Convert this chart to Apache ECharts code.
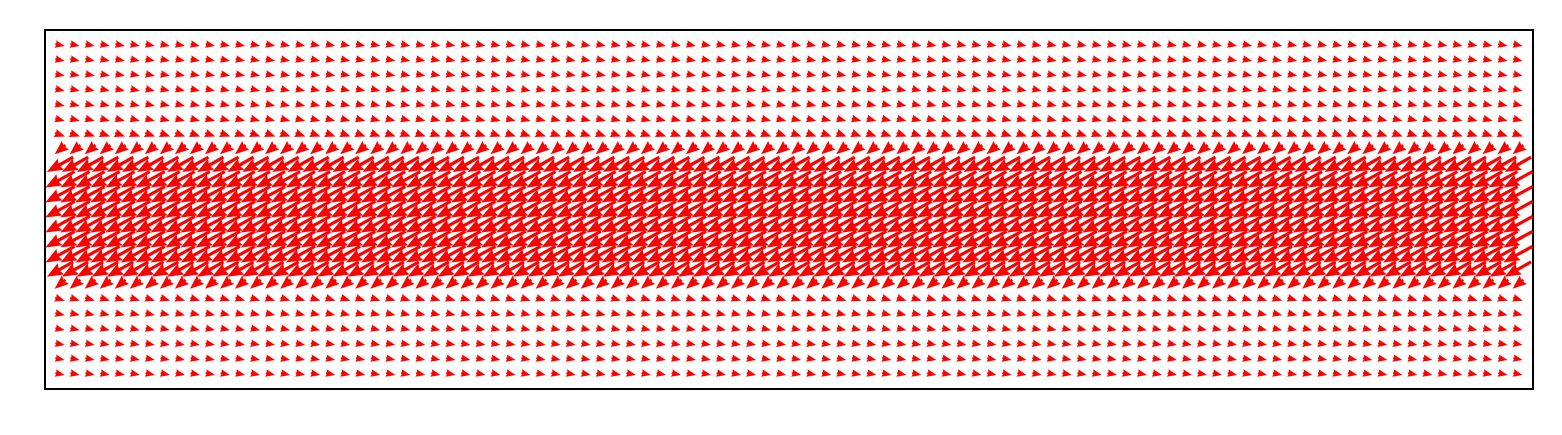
<!DOCTYPE html>
<html>
<head>
<meta charset="utf-8">
<script src="https://cdn.jsdelivr.net/npm/echarts@6/dist/echarts.min.js"></script>
<style>
html,body{margin:0;padding:0;background:#fff;}
#chart{width:1562px;height:435px;}
</style>
</head>
<body>
<div id="chart"></div>
<script>
// Grid of arrow positions (column index, row index)
const NCOLS = 98;
const NROWS = 23;
// Per-row vector components, row 0 = bottom row, row 22 = top row (grid units)
const U = [0.62, 0.62, 0.62, 0.62, 0.63, 0.64, -0.71, -1.75, -1.93, -1.95, -1.96, -1.96, -1.95, -1.93, -1.75, -0.71, 0.66, 0.64, 0.63, 0.62, 0.62, 0.62, 0.62];
const V = [-0.13, -0.13, -0.13, -0.14, -0.15, -0.20, -0.60, -1.00, -1.07, -1.07, -1.08, -1.08, -1.07, -1.07, -1.00, -0.60, -0.24, -0.17, -0.15, -0.14, -0.13, -0.13, -0.13];

const data = [];
for (let r = 0; r < NROWS; r++) {
  for (let c = 0; c < NCOLS; c++) {
    data.push([c, r, U[r], V[r]]);
  }
}

const W = 3.2;          // shaft width, px
const HL = 5 * W;       // head length
const HAL = 4.5 * W;    // head axis length
const HW = 2 * W;       // half head width

function arrowPoints(L) {
  let len = L, k = 1;
  if (L < HL) { len = HL; k = L / HL; }
  const pts = [
    [0, -W / 2], [len - HAL, -W / 2], [len - HL, -HW], [len, 0],
    [len - HL, HW], [len - HAL, W / 2], [0, W / 2]
  ];
  return pts.map(p => [p[0] * k, p[1] * k]);
}

function renderItem(params, api) {
  const x = api.value(0), y = api.value(1), u = api.value(2), v = api.value(3);
  const p = api.coord([x, y]);
  const s = api.size([1, 1]);
  const dx = u * s[0], dy = -v * s[1];
  const L = Math.hypot(dx, dy);
  const a = Math.atan2(dy, dx);
  const ca = Math.cos(a), sa = Math.sin(a);
  const pts = arrowPoints(L).map(q => {
    const qx = q[0] - L / 2, qy = q[1];   // pivot middle
    return [p[0] + qx * ca - qy * sa, p[1] + qx * sa + qy * ca];
  });
  return {
    type: 'polygon',
    shape: { points: pts },
    style: { fill: '#ff0000', stroke: null }
  };
}

const chart = echarts.init(document.getElementById('chart'), null, { renderer: 'canvas' });
chart.setOption({
  animation: false,
  backgroundColor: '#ffffff',
  grid: {
    left: 45, top: 30, width: 1488, height: 359,
    show: true, borderColor: '#000000', borderWidth: 2, backgroundColor: 'transparent'
  },
  xAxis: { type: 'value', min: -1, max: NCOLS, show: false },
  yAxis: { type: 'value', min: -1, max: NROWS, show: false },
  series: [{
    type: 'custom',
    renderItem: renderItem,
    clip: true,
    data: data,
    z: 1
  }]
});
</script>
</body>
</html>
